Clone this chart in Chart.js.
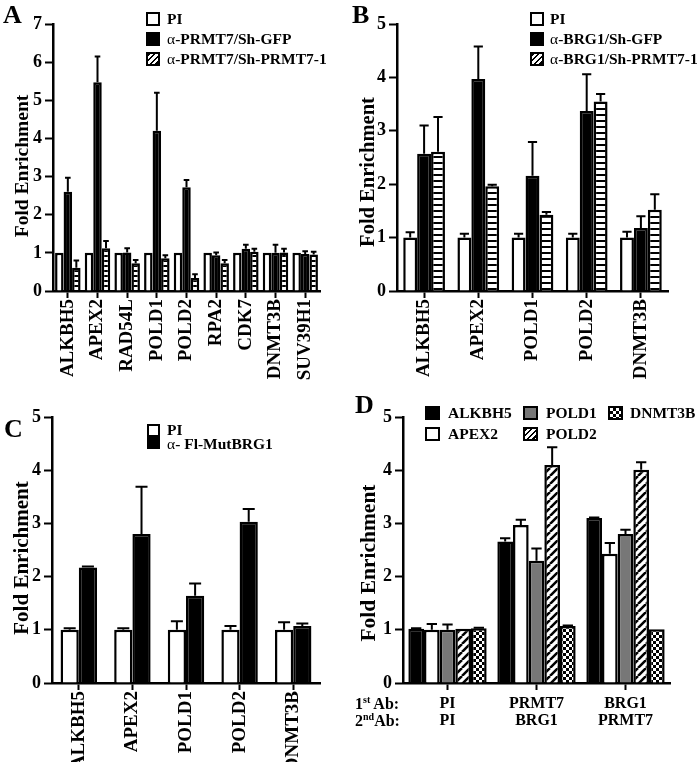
<!DOCTYPE html>
<html>
<head>
<meta charset="utf-8">
<script src="https://cdn.jsdelivr.net/npm/chart.js@4.4.1/dist/chart.umd.min.js"></script>
<style>
  body { margin: 0; background: #fff; }
  #fig { position: relative; width: 700px; height: 762px; overflow: hidden;
         font-family: "Liberation Serif", "Times New Roman", serif; font-weight: bold; color: #000; }
  #fig canvas { position: absolute; }
  .t { position: absolute; white-space: nowrap; }
  .letter { font-size: 26px; line-height: 26px; }
  .ylab { transform: translate(-50%, -50%) rotate(-90deg); }
  .leg { font-size: 15.5px; line-height: 15.5px; }
  .ab { font-size: 16px; line-height: 16px; }
  .ab sup { font-size: 10px; line-height: 0; vertical-align: 6px; }
  .sw { position: absolute; box-sizing: border-box; border: 2px solid #000; background: #fff; }
  .blk { background: #000; }
  .gry { background: #777; }
  .diag { background: repeating-linear-gradient(135deg, #000 0 1.6px, #fff 1.6px 4px); }
  .chk { background: conic-gradient(#000 25%, #fff 0 50%, #000 0 75%, #fff 0) 0 0 / 6px 6px; }
  .alpha { font-weight: normal; }
</style>
</head>
<body>
<div id="fig">
  <canvas id="chartA" width="350" height="380" style="left:0;top:0"></canvas>
  <canvas id="chartB" width="350" height="380" style="left:350px;top:0"></canvas>
  <canvas id="chartC" width="350" height="382" style="left:0;top:380px"></canvas>
  <canvas id="chartD" width="350" height="382" style="left:350px;top:380px"></canvas>

  <!-- panel letters -->
  <div class="t letter" style="left:3px;top:2px">A</div>
  <div class="t letter" style="left:352px;top:2px">B</div>
  <div class="t letter" style="left:4px;top:416px">C</div>
  <div class="t letter" style="left:355px;top:392px">D</div>

  <!-- y titles -->
  <div class="t ylab" style="left:22px;top:166px;font-size:19.5px">Fold Enrichment</div>
  <div class="t ylab" style="left:367px;top:172px;font-size:20.5px">Fold Enrichment</div>
  <div class="t ylab" style="left:21px;top:558px;font-size:21px">Fold Enrichment</div>
  <div class="t ylab" style="left:368px;top:563px;font-size:21.5px">Fold Enrichment</div>

  <!-- legend A -->
  <div class="sw" style="left:146px;top:12px;width:14px;height:14px"></div>
  <div class="sw blk" style="left:146px;top:32px;width:14px;height:14px"></div>
  <div class="sw diag" style="left:146px;top:52px;width:14px;height:14px"></div>
  <div class="t leg" style="left:167px;top:11px">PI</div>
  <div class="t leg" style="left:167px;top:31px"><span class="alpha">α</span>-PRMT7/Sh-GFP</div>
  <div class="t leg" style="left:167px;top:51px"><span class="alpha">α</span>-PRMT7/Sh-PRMT7-1</div>

  <!-- legend B -->
  <div class="sw" style="left:530px;top:12px;width:14px;height:14px"></div>
  <div class="sw blk" style="left:530px;top:32px;width:14px;height:14px"></div>
  <div class="sw diag" style="left:530px;top:52px;width:14px;height:14px"></div>
  <div class="t leg" style="left:550px;top:11px">PI</div>
  <div class="t leg" style="left:550px;top:31px"><span class="alpha">α</span>-BRG1/Sh-GFP</div>
  <div class="t leg" style="left:550px;top:51px"><span class="alpha">α</span>-BRG1/Sh-PRMT7-1</div>

  <!-- legend C -->
  <div class="sw" style="left:147px;top:424px;width:13px;height:13px"></div>
  <div class="sw blk" style="left:147px;top:437px;width:13px;height:12px"></div>
  <div class="t leg" style="left:167px;top:422px">PI</div>
  <div class="t leg" style="left:167px;top:436px"><span class="alpha">α</span>- Fl-MutBRG1</div>

  <!-- legend D -->
  <div class="sw blk" style="left:425px;top:406px;width:15px;height:14px"></div>
  <div class="sw" style="left:425px;top:427px;width:15px;height:14px"></div>
  <div class="sw gry" style="left:523px;top:406px;width:15px;height:14px"></div>
  <div class="sw diag" style="left:523px;top:427px;width:15px;height:14px"></div>
  <div class="sw chk" style="left:608px;top:406px;width:15px;height:14px"></div>
  <div class="t leg" style="left:448px;top:405px">ALKBH5</div>
  <div class="t leg" style="left:448px;top:426px">APEX2</div>
  <div class="t leg" style="left:546px;top:405px">POLD1</div>
  <div class="t leg" style="left:546px;top:426px">POLD2</div>
  <div class="t leg" style="left:630px;top:405px">DNMT3B</div>

  <div class="t ab" style="left:355px;top:696px">1<sup>st</sup> Ab:</div>
  <div class="t ab" style="left:355px;top:713px">2<sup>nd</sup>Ab:</div>
</div>

<script>
// ---- panel A: PRMT7 ChIP ----
const genesA = ['ALKBH5', 'APEX2', 'RAD54L', 'POLD1', 'POLD2', 'RPA2', 'CDK7', 'DNMT3B', 'SUV39H1'];
const aPI = [1, 1, 1, 1, 1, 1, 1, 1, 1];
const aPIerr = [0, 0, 0, 0, 0, 0, 0, 0, 0];
const aGFP = [2.6, 5.47, 1.01, 4.2, 2.72, 0.94, 1.11, 1.0, 0.97];
const aGFPerr = [0.37, 0.68, 0.11, 1.0, 0.19, 0.07, 0.1, 0.21, 0.07];
const aKD = [0.61, 1.12, 0.73, 0.86, 0.34, 0.73, 1.03, 1.01, 0.96];
const aKDerr = [0.19, 0.19, 0.08, 0.08, 0.1, 0.08, 0.08, 0.1, 0.07];

// ---- panel B: BRG1 ChIP ----
const genesB = ['ALKBH5', 'APEX2', 'POLD1', 'POLD2', 'DNMT3B'];
const bPI = [1, 1, 1, 1, 1];
const bPIerr = [0.1, 0.07, 0.07, 0.07, 0.11];
const bGFP = [2.57, 3.97, 2.16, 3.37, 1.18];
const bGFPerr = [0.53, 0.61, 0.63, 0.69, 0.22];
const bKD = [2.61, 1.96, 1.43, 3.55, 1.52];
const bKDerr = [0.65, 0.03, 0.05, 0.14, 0.29];

// ---- panel C: mutant BRG1 ----
const genesC = ['ALKBH5', 'APEX2', 'POLD1', 'POLD2', 'DNMT3B'];
const cPI = [1, 1, 1, 1, 1];
const cPIerr = [0.03, 0.03, 0.16, 0.07, 0.14];
const cMut = [2.17, 2.8, 1.64, 3.03, 1.07];
const cMutErr = [0.02, 0.89, 0.23, 0.24, 0.05];

// ---- panel D: re-ChIP ----
const groupsD = [['PI', 'PI'], ['PRMT7', 'BRG1'], ['BRG1', 'PRMT7']];
const dALKBH5 = [1.02, 2.66, 3.1];
const dALKBH5err = [0.01, 0.06, 0.01];
const dAPEX2 = [1.0, 2.97, 2.43];
const dAPEX2err = [0.11, 0.1, 0.2];
const dPOLD1 = [1.0, 2.3, 2.8];
const dPOLD1err = [0.1, 0.23, 0.08];
const dPOLD2 = [1.02, 4.1, 4.01];
const dPOLD2err = [0, 0.33, 0.14];
const dDNMT3B = [1.03, 1.07, 1.01];
const dDNMT3Berr = [0.01, 0.01, 0];

const serif = '"Liberation Serif", "Times New Roman", serif';

// fill patterns
function stripes(period, lw) {
    const c = document.createElement('canvas');
    c.width = 8; c.height = period;
    const g = c.getContext('2d');
    g.fillStyle = '#fff'; g.fillRect(0, 0, 8, period);
    g.fillStyle = '#000'; g.fillRect(0, 0, 8, lw);
    return g.createPattern(c, 'repeat');
}
function diagonal(s, lw) {
    const c = document.createElement('canvas');
    c.width = s; c.height = s;
    const g = c.getContext('2d');
    g.fillStyle = '#fff'; g.fillRect(0, 0, s, s);
    g.strokeStyle = '#000'; g.lineWidth = lw;
    g.beginPath();
    [-s, 0, s].forEach(k => { g.moveTo(k, s); g.lineTo(k + s, 0); });
    g.stroke();
    return g.createPattern(c, 'repeat');
}
function checker(sq) {
    const c = document.createElement('canvas');
    c.width = sq * 2; c.height = sq * 2;
    const g = c.getContext('2d');
    g.fillStyle = '#fff'; g.fillRect(0, 0, sq * 2, sq * 2);
    g.fillStyle = '#000'; g.fillRect(0, 0, sq, sq); g.fillRect(sq, sq, sq, sq);
    return g.createPattern(c, 'repeat');
}

// upward error bars with a cap, drawn through the y scale
const errorBars = {
    id: 'errorBars',
    afterDatasetsDraw(chart) {
        const ctx = chart.ctx;
        const y = chart.scales.y;
        ctx.save();
        ctx.strokeStyle = '#000';
        ctx.lineWidth = 2;
        chart.data.datasets.forEach((ds, i) => {
            const meta = chart.getDatasetMeta(i);
            meta.data.forEach((bar, j) => {
                const e = ds.err ? ds.err[j] : 0;
                if (!e) return;
                const yTop = y.getPixelForValue(ds.data[j] + e);
                const cap = bar.width * 0.33;
                ctx.beginPath();
                ctx.moveTo(bar.x, bar.y);
                ctx.lineTo(bar.x, yTop);
                ctx.moveTo(bar.x - cap, yTop);
                ctx.lineTo(bar.x + cap, yTop);
                ctx.stroke();
            });
        });
        ctx.restore();
    }
};

function ds(data, err, fill, cat) {
    return {
        data: data, err: err, backgroundColor: fill, borderColor: '#000', borderWidth: 2.5,
        categoryPercentage: cat, barPercentage: 1
    };
}

function panel(id, o) {
    return new Chart(document.getElementById(id), {
        type: 'bar',
        data: { labels: o.labels, datasets: o.datasets },
        options: {
            responsive: false,
            animation: false,
            devicePixelRatio: 1,
            layout: { padding: { top: o.top, right: o.right, left: 0, bottom: 0 } },
            plugins: { legend: { display: false }, tooltip: { enabled: false } },
            scales: {
                x: {
                    offset: true,
                    grid: { drawOnChartArea: false, offset: false, tickLength: 7, tickWidth: 2, tickColor: '#000' },
                    border: { color: '#000', width: 2.5 },
                    ticks: {
                        color: '#000', font: o.xFont, autoSkip: false,
                        minRotation: o.rot, maxRotation: o.rot, padding: o.xPad
                    },
                    afterFit: s => { s.height = o.xH; }
                },
                y: {
                    min: 0, max: o.max,
                    grid: { drawOnChartArea: false, tickLength: 8, tickWidth: 2, tickColor: '#000' },
                    border: { color: '#000', width: 2.5 },
                    ticks: { stepSize: 1, color: '#000', font: { family: serif, size: 18, weight: 'bold' }, padding: 3 },
                    afterFit: s => { s.width = o.left; }
                }
            }
        },
        plugins: [errorBars]
    });
}

const rotFont = { family: serif, size: 19, weight: 'bold' };

panel('chartA', {
    labels: genesA, max: 7, top: 24, right: 30, left: 53, xH: 89, rot: 90, xPad: 1, xFont: rotFont,
    datasets: [
        ds(aPI, aPIerr, '#fff', 0.86),
        ds(aGFP, aGFPerr, '#000', 0.86),
        ds(aKD, aKDerr, stripes(5, 2), 0.86)
    ]
});

panel('chartB', {
    labels: genesB, max: 5, top: 24, right: 32, left: 47, xH: 89, rot: 90, xPad: 1, xFont: rotFont,
    datasets: [
        ds(bPI, bPIerr, '#fff', 0.77),
        ds(bGFP, bGFPerr, '#000', 0.77),
        ds(bKD, bKDerr, stripes(6, 2), 0.77)
    ]
});

panel('chartC', {
    labels: genesC, max: 5, top: 37, right: 30, left: 52, xH: 79, rot: 90, xPad: 1, xFont: rotFont,
    datasets: [
        ds(cPI, cPIerr, '#fff', 0.68),
        ds(cMut, cMutErr, '#000', 0.68)
    ]
});

panel('chartD', {
    labels: groupsD, max: 5, top: 37, right: 30, left: 53, xH: 79, rot: 0, xPad: 5,
    xFont: { family: serif, size: 16, weight: 'bold', lineHeight: 1.06 },
    datasets: [
        ds(dALKBH5, dALKBH5err, '#000', 0.88),
        ds(dAPEX2, dAPEX2err, '#fff', 0.88),
        ds(dPOLD1, dPOLD1err, '#777', 0.88),
        ds(dPOLD2, dPOLD2err, diagonal(8, 2.5), 0.88),
        ds(dDNMT3B, dDNMT3Berr, checker(3), 0.88)
    ]
});
</script>
</body>
</html>
